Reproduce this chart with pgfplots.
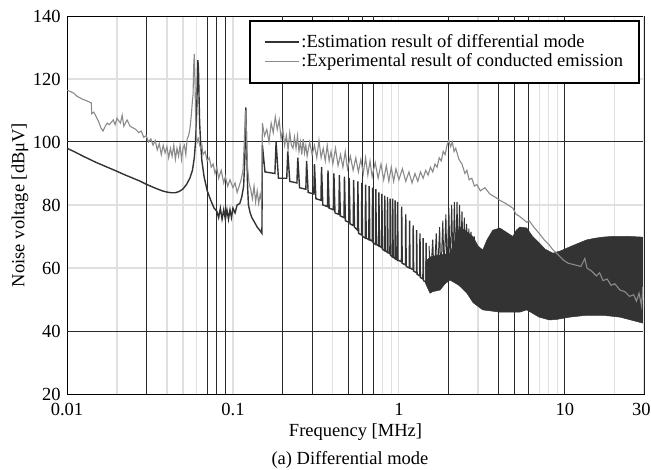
\documentclass[border=0pt]{standalone}
\usepackage{pgfplots}
\pgfplotsset{compat=1.18}
\usepackage{fontspec}
\setmainfont{Liberation Serif}
\definecolor{darkc}{HTML}{333333}
\definecolor{lightc}{HTML}{8A8A8A}
\definecolor{gridd}{HTML}{2A2A2A}
\definecolor{gridl}{HTML}{E0E0E0}
\begin{document}
\fontsize{18.5bp}{22bp}\selectfont
\begin{tikzpicture}
\useasboundingbox (-67bp,-76bp) rectangle (584bp,394bp);
\begin{axis}[
 at={(0,0)}, anchor=south west,
 scale only axis, width=577bp, height=378bp,
 xmode=log, xmin=0.01, xmax=30, ymin=20, ymax=140,
 xtick={0.01,0.1,1,10,30}, xticklabels={0.01,0.1,1,10,\makebox[24bp][l]{30}},
 ytick={20,40,60,80,100,120,140}, yticklabels={20,40,60,80,100,120,140},
 minor xtick={0.02,0.04,0.05,0.06,0.1,0.4,0.8,0.9,1,3,7,8,9,20},
 minor ytick={60,80,120},
 xmajorgrids=false, ymajorgrids=false, xminorgrids=true, yminorgrids=true,
 minor grid style={gridl, line width=1.2bp},
 extra x ticks={0.03,0.07,0.08,0.09,0.2,0.3,0.5,0.6,0.7,2,4,5,6,10},
 extra x tick labels={},
 extra y ticks={40,100}, extra y tick labels={},
 extra tick style={grid=major, major grid style={gridd, line width=1bp}},
 major tick length=0pt, minor tick length=0pt,
 tick label style={font=\fontsize{18.5bp}{22bp}\selectfont},
 xticklabel style={yshift=-3bp},
 axis line style={black, line width=0.9bp},
 xlabel={Frequency [MHz]}, ylabel={Noise voltage [dBμV]},
 label style={font=\fontsize{18.5bp}{22bp}\selectfont},
 xlabel style={at={(axis description cs:0.5,-0.1005)}, anchor=center},
 ylabel style={at={(axis description cs:-0.0815,0.5)}, anchor=center},
 legend style={at={(0.993,0.989)}, anchor=north east, draw=black, line width=2bp, fill=white,
   font=\fontsize{18.5bp}{22bp}\selectfont, inner xsep=14bp, inner ysep=11bp, row sep=0bp},
 legend cell align=left,
 legend image code/.code={\draw[#1] (0bp,0bp) -- (34bp,0bp);},
]
\addlegendimage{darkc, line width=1.3bp}
\addlegendentry{:Estimation result of differential mode}
\addlegendimage{lightc, line width=1.3bp}
\addlegendentry{:Experimental result of conducted emission}

% estimation: dense band (envelope of the fast oscillation)
\addplot[fill=darkc, draw=darkc, line width=0.5bp, forget plot] coordinates {
(1.45,62)(1.54,63.5)(1.7,64)(2.03,64.6)(2.15,68)(2.33,73)(2.5,72)(2.79,70)(3.0,67)(3.2,65.7)(3.4,69)(3.68,72)(4.06,72.7)(4.4,71.5)(4.86,70)(5.1,72)(5.36,73)(5.9,72.7)(6.4,70)(7.0,68)(7.6,66)(8.47,64.7)(9.5,65.5)(10.7,66.7)(12,67.8)(13.5,68.9)(15,69.4)(16.9,69.8)(19,70)(21.5,70)(25,70)(29.5,69.8)(30,69.8)
(30,42.5)(29.5,42.5)(25,43.5)(21.5,44.4)(16.9,45)(13.5,45)(10.7,44.4)(9,43.7)(8.1,43.5)(7.0,44.4)(5.9,46.7)(5.36,46)(4.06,46)(3.2,46.7)(2.8,49)(2.57,52)(2.3,54.5)(2.03,56.2)(1.9,55)(1.77,53)(1.6,52.5)(1.54,52)(1.45,55)
} -- cycle;

% estimation: main line with resonance spikes
\addplot[darkc, line width=1.4bp, forget plot] coordinates {
(0.01,98)(0.011,97)(0.0125,95.5)(0.015,93.5)(0.0175,92)(0.02,90.7)(0.0225,89.5)(0.025,88.5)(0.0275,87.6)(0.03,86.6)(0.0325,85.8)(0.035,85.1)(0.0375,84.5)(0.04,84.1)(0.0425,83.9)(0.045,83.9)(0.0475,84.3)(0.05,85.1)(0.0525,86.5)(0.055,88.5)(0.057,91)(0.0585,95)(0.0595,100)(0.0605,110)(0.061,119)(0.0615,126)(0.062,123)(0.0625,114)(0.063,106)(0.064,99)(0.065,94)(0.067,89)(0.07,84.5)(0.0735,81.5)(0.077,79)(0.08,78)(0.082,76)(0.084,79)(0.086,75.5)(0.088,78.5)(0.09,75.5)(0.092,78.5)(0.094,75.5)(0.096,78.5)(0.098,76)(0.1,79)(0.103,77.5)(0.106,80)(0.11,80.5)(0.113,82.5)(0.116,86)(0.118,95)(0.1195,111)(0.121,98)(0.1225,86)(0.124,80)(0.127,77.5)(0.13,76)(0.135,74.5)(0.14,73)(0.145,72)(0.1495,71)
(0.1505,99)(0.156,90.5)(0.179,90)
(0.182,100)(0.188,88.5)(0.211,88.5)
(0.214,97)(0.220,87.5)(0.243,87)
(0.246,95)(0.252,85.5)(0.275,85)
(0.278,94)(0.284,84)(0.307,83.5)
(0.310,93)(0.316,82)(0.339,81.5)
(0.342,92)(0.348,80)(0.371,79.5)
(0.374,91)(0.380,79)(0.403,78.5)
(0.406,90)(0.412,77.5)(0.435,77)
(0.438,89.5)(0.444,76.5)(0.467,76)
(0.470,89)(0.476,75)(0.499,74.5)
(0.502,88.5)(0.508,74)(0.531,73.5)
(0.534,88)(0.540,73)(0.563,72)
(0.566,87.5)(0.572,71)(0.595,70.5)
(0.598,87)(0.604,70)(0.627,69.5)
(0.630,86.5)(0.636,69.5)(0.659,69)
(0.662,86)(0.668,69)(0.691,68.5)
(0.694,85.5)(0.700,68)(0.723,67.5)
(0.726,85)(0.732,67.5)(0.755,67)
(0.758,84)(0.764,67)(0.787,66.5)
(0.790,83.5)(0.796,66)(0.819,65.5)
(0.822,83)(0.828,65.5)(0.851,65)
(0.854,82.5)(0.860,65)(0.883,64.5)
(0.886,82)(0.892,64)(0.915,63.5)
(0.918,82)(0.924,63.5)(0.947,63)
(0.950,81.5)(0.956,63)(0.979,62.5)
(0.982,81)(0.988,62.5)(1.036,62)
(1.04,79.5)(1.047,61.5)(1.096,61)
(1.10,77)(1.107,60.5)(1.156,60)
(1.16,75)(1.167,60)(1.216,59.5)
(1.22,73.5)(1.227,59)(1.276,58.5)
(1.28,72)(1.287,58)(1.336,57.5)
(1.34,71)(1.347,57)(1.396,56.5)
(1.40,69.5)(1.407,56)(1.456,55.5)
(1.46,68)(1.467,55)(1.50,54.5)
};

% estimation: spikes rising above the band
\addplot[darkc, line width=1bp, forget plot] coordinates {
(1.52,67)(1.55,56)(1.60,69)(1.63,56)(1.68,71)(1.71,57)(1.76,73)(1.79,57)(1.84,75)(1.87,58)(1.92,77)(1.95,58)(2.0,79)(2.04,59)(2.08,80)(2.12,60)(2.16,81)(2.20,60)(2.24,81)(2.28,61)(2.32,80)(2.36,62)(2.40,78)(2.44,62)(2.48,76)(2.52,62)(2.56,74)(2.60,62)(2.64,72.5)(2.68,62)(2.72,71.5)(2.76,62)(2.85,70)(2.9,60)
};

% experimental result
\addplot[lightc, line width=1.1bp, forget plot] coordinates {
(0.01,116.5)(0.0105,116)(0.011,115.5)(0.0115,114.5)(0.012,114)(0.0125,113.5)(0.013,113.2)(0.0135,112.8)(0.014,112.4)(0.0141,109)(0.0145,109.5)(0.015,108)(0.0155,106.5)(0.016,104.5)(0.0165,103.5)(0.017,105)(0.0175,106)(0.018,105.5)(0.019,107)(0.0195,105.5)(0.02,107.5)(0.021,106)(0.0215,108.5)(0.022,105)(0.023,107)(0.024,105)(0.025,104.5)(0.026,104)(0.027,103)(0.028,103.5)(0.029,101.5)(0.03,102)(0.031,100)(0.032,101)(0.033,99)(0.034,100.5)(0.035,97.5)(0.036,99.5)(0.037,96)(0.038,99)(0.039,96.5)(0.04,98.5)(0.041,95)(0.042,98)(0.043,95.5)(0.044,99)(0.045,94.5)(0.046,98)(0.047,95.5)(0.048,99)(0.049,94.5)(0.05,98)(0.051,99)(0.052,96)(0.053,101)(0.054,102)(0.055,104)(0.056,108)(0.057,113)(0.0575,115)(0.058,124)(0.0585,128)(0.059,121)(0.0595,110)(0.06,103)(0.061,100)(0.062,101)(0.063,99)(0.064,98)(0.065,99)(0.066,96)(0.068,97)(0.07,94)(0.072,95)(0.074,92)(0.076,93)(0.078,90)(0.08,92)(0.082,88.5)(0.085,91)(0.088,87)(0.09,89)(0.093,86)(0.096,88)(0.1,85.5)(0.103,87)(0.106,84)(0.109,86)(0.112,88)(0.115,91)(0.117,100)(0.119,110)(0.1205,104)(0.122,93)(0.125,87)(0.128,85)(0.131,82)(0.134,86)(0.137,81)(0.14,84.5)(0.143,80.5)(0.146,83.5)(0.149,81)
(0.1505,106)(0.155,102)(0.16,104)(0.165,100)(0.17,106)(0.175,103)(0.18,108)(0.185,104)(0.19,107)(0.195,101)(0.2,104)(0.205,99)(0.21,102)(0.215,97.5)(0.22,103)(0.225,99)(0.23,98)(0.235,101.5)(0.24,98)(0.245,102)(0.25,97)(0.255,100)(0.26,96)(0.265,101)(0.27,96.5)(0.275,99)(0.28,95.5)(0.29,100)(0.3,96)(0.31,99)(0.32,95)(0.33,100.5)(0.34,95)(0.35,98)(0.36,94)(0.37,99)(0.38,94)(0.39,97)(0.4,93)(0.415,98)(0.43,92.5)(0.445,96)(0.46,92)(0.475,97)(0.49,91.5)(0.51,95.5)(0.53,91)(0.55,95)(0.57,90.5)(0.59,94.5)(0.61,90)(0.63,95)(0.65,89.5)(0.67,94)(0.69,89)(0.72,93.5)(0.75,88.5)(0.78,93)(0.81,88)(0.84,92.5)(0.87,87.5)(0.9,92)(0.93,87.5)(0.96,91.5)(1.0,88)(1.05,91.5)(1.1,87.5)(1.15,90.5)(1.2,87)(1.25,90)(1.3,87.5)(1.35,90.5)(1.4,88.5)(1.45,91)(1.5,89.5)(1.55,92)(1.6,90.5)(1.65,93)(1.7,92)(1.75,95)(1.8,94)(1.85,97)(1.9,96)(1.95,99)(2.0,100.5)(2.05,98.5)(2.1,100)(2.15,97)(2.2,98)(2.3,94.5)(2.4,93)(2.5,90)(2.57,91)(2.65,88)(2.75,88.5)(2.85,86)(2.95,86.5)(3.1,84.5)(3.3,85.5)(3.53,83.5)(3.8,82.5)(4.06,81.5)(4.4,80.5)(4.86,79)(5.1,77)(5.3,76.5)(5.6,75.5)(5.9,74.5)(6.1,75)(6.5,73)(7.0,71)(7.5,69)(8.0,67.5)(8.5,65.7)(9.0,64.5)(9.8,62.5)(10.5,61.5)(11.5,61)(12.5,60.5)(13.2,63)(13.6,60)(14.5,59)(15.5,57.5)(16.2,58.5)(17,56)(18,56.5)(19,54.5)(20,55)(21.5,53)(23,52.5)(24.5,51)(26,51.5)(27,49.5)(28,52)(29,48)(29.5,54)(30,47.5)
};
\draw[gridl, line width=1.2bp] (rel axis cs:1,0) -- (rel axis cs:1,1);
\end{axis}
\node at (283bp,-66bp) {(a) Differential mode};
\end{tikzpicture}
\end{document}
